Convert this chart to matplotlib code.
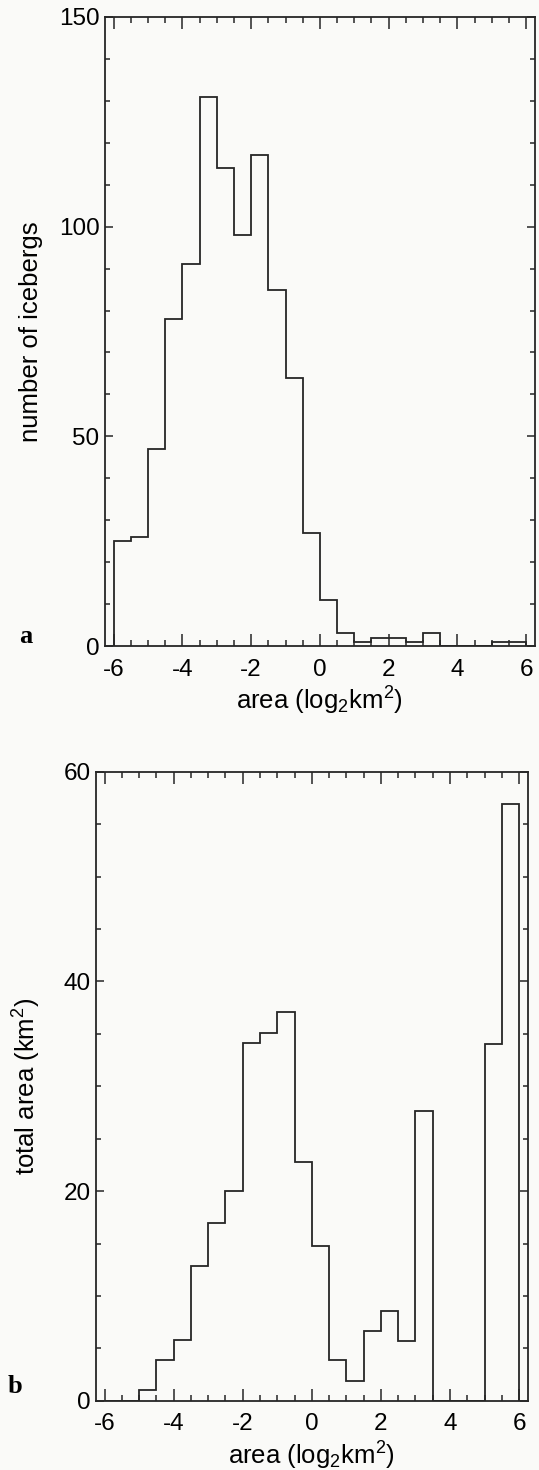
#!/usr/bin/env python3
"""Iceberg area histograms: (a) number of icebergs, (b) total area, per log2 area bin."""
import numpy as np
import matplotlib
matplotlib.use("Agg")
import matplotlib.pyplot as plt
from matplotlib.ticker import MultipleLocator

# bin edges in log2(km^2), 0.5 wide, -6 .. 6
BIN_LO = -6.0
BIN_HI = 6.0
BIN_W = 0.5

# (a) number of icebergs per bin
COUNTS = [25, 26, 47, 78, 91, 131, 114, 98, 117, 85, 64, 27,
          11, 3, 1, 2, 2, 1, 3, 0, 0, 0, 1, 1]

# (b) total area per bin (km^2)
TOTAL_AREA = [0, 0, 1.0, 3.9, 5.8, 12.9, 17.0, 20.0, 34.1, 35.1, 37.1, 22.8,
              14.8, 3.9, 1.9, 6.7, 8.6, 5.7, 27.6, 0, 0, 0, 34.0, 56.9]

X_TICKS = [-6, -4, -2, 0, 2, 4, 6]

INK = "#262626"
PAPER = "#fafaf8"

plt.rcParams["font.family"] = ["Liberation Sans", "DejaVu Sans"]
plt.rcParams["axes.unicode_minus"] = False
plt.rcParams["mathtext.fontset"] = "custom"
plt.rcParams["mathtext.rm"] = "Liberation Sans"
plt.rcParams["mathtext.it"] = "Liberation Sans"


def style_axes(ax, ymax, ymajor, yminor):
    ax.set_xlim(-6.25, 6.25)
    ax.set_ylim(0, ymax)
    ax.set_xticks(X_TICKS)
    ax.set_xticklabels([str(t) for t in X_TICKS])
    ax.xaxis.set_minor_locator(MultipleLocator(0.5))
    ax.yaxis.set_major_locator(MultipleLocator(ymajor))
    ax.yaxis.set_minor_locator(MultipleLocator(yminor))
    ax.tick_params(axis="both", which="both", direction="in",
                   top=True, right=True, colors=INK, labelcolor="black",
                   labelsize=17.5, width=1.1)
    ax.tick_params(axis="x", which="major", length=8.5, pad=9)
    ax.tick_params(axis="x", which="minor", length=4.5)
    ax.tick_params(axis="y", which="major", length=5.5, pad=4)
    ax.tick_params(axis="y", which="minor", length=3.5)
    for s in ax.spines.values():
        s.set_color(INK)
        s.set_linewidth(1.3)
    ax.set_facecolor(PAPER)
    ax.set_xlabel("area (log$_2$km$^2$)", fontsize=18.5)
    ax.xaxis.set_label_coords(0.5, -0.062)


def main():
    edges = np.arange(BIN_LO, BIN_HI + BIN_W / 2, BIN_W)

    fig = plt.figure(figsize=(5.39, 14.7), dpi=100, facecolor=PAPER)

    # panel a
    ax = fig.add_axes([0.195, 0.5605, 0.797, 0.428])
    ax.stairs(COUNTS, edges, baseline=0, color=INK, lw=1.3)
    style_axes(ax, 150, 50, 10)
    ax.set_ylabel("number of icebergs", fontsize=18.5)
    ax.yaxis.set_label_coords(-0.144, 0.5)
    fig.text(0.047, 0.567, "a", fontsize=19, fontweight="bold",
             family=["Liberation Serif", "DejaVu Serif"], ha="center", va="center")

    # panel b
    ax = fig.add_axes([0.178, 0.047, 0.801, 0.428])
    ax.stairs(TOTAL_AREA, edges, baseline=0, color=INK, lw=1.3)
    style_axes(ax, 60, 20, 5)
    ax.set_ylabel("total area (km$^2$)", fontsize=18.5)
    ax.yaxis.set_label_coords(-0.123, 0.5)
    fig.text(0.028, 0.0565, "b", fontsize=19, fontweight="bold",
             family=["Liberation Serif", "DejaVu Serif"], ha="center", va="center")

    fig.savefig("out.png", dpi=100, facecolor=PAPER)


if __name__ == "__main__":
    main()
